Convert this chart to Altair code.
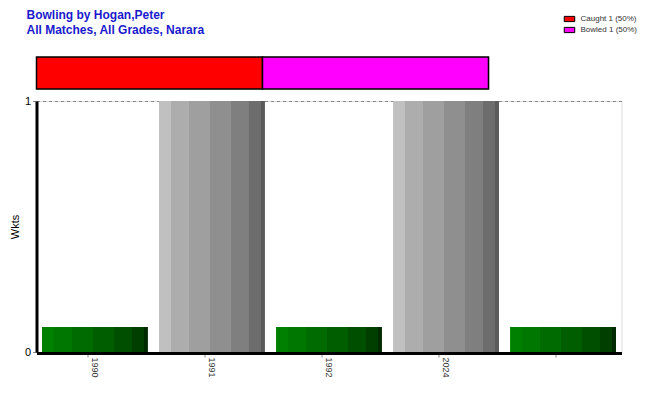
import altair as alt
import pandas as pd

# ---- data ----
years = ["1990", "1991", "1992", "2024", " "]
wkts = [0.1, 1, 0.1, 1, 0.1]
kinds = ["base", "wkt", "base", "wkt", "base"]

dismissals = ["Caught 1 (50%)", "Bowled 1 (50%)"]
dismissal_counts = [1, 1]
dismissal_colors = ["#ff0000", "#ff00ff"]

df = pd.DataFrame({"year": years, "wkts": wkts, "kind": kinds})
dd = pd.DataFrame({"how": dismissals, "n": dismissal_counts, "row": ["a", "a"],
                   "order": [0, 1]})

FONT = "Liberation Sans"

def stepped(colors, edges):
    stops = []
    for i, c in enumerate(colors):
        stops.append(alt.GradientStop(offset=edges[i], color=c))
        stops.append(alt.GradientStop(offset=edges[i + 1], color=c))
    return alt.Gradient(gradient="linear", stops=stops, x1=0, x2=1, y1=0, y2=0)

edges = [0, 0.113, 0.283, 0.481, 0.679, 0.849, 0.962, 1.0]
gray = stepped(["#c0c0c0", "#adadad", "#9f9f9f", "#8f8f8f", "#7f7f7f", "#6d6d6d", "#5a5a5a"], edges)
green = stepped(["#008000", "#007800", "#006b00", "#005e00", "#004f00", "#003f00", "#002a00"], edges)

xenc = alt.X("year:N", sort=years, title=None,
             scale=alt.Scale(paddingInner=0.095, paddingOuter=0.047),
             axis=alt.Axis(labelAngle=90, labelFontSize=9, labelColor="#333333",
                           labelFont=FONT, domainColor="black", domainWidth=3,
                           tickColor="#888888", tickSize=4, bandPosition=0.43,
                           labelPadding=0, offset=1))
yenc = alt.Y("wkts:Q", title="Wkts",
             scale=alt.Scale(domain=[0, 1], nice=False),
             axis=alt.Axis(values=[0, 1], format="d", labelFontSize=11, labelColor="#000000",
                           labelFont=FONT, titleFont=FONT, titleFontSize=11,
                           titleFontWeight="normal", titleColor="#000000",
                           domainColor="black", domainWidth=3, tickColor="#888888",
                           tickSize=4, grid=True, gridDash=[3, 3], gridColor="#888888",
                           gridWidth=1, titlePadding=4))

base = alt.Chart(df)
green_bars = base.transform_filter(alt.datum.kind == "base").mark_bar(color=green).encode(x=xenc, y=yenc)
gray_bars = base.transform_filter(alt.datum.kind == "wkt").mark_bar(color=gray).encode(x=xenc, y=yenc)
main = alt.layer(green_bars, gray_bars).properties(width=585, height=251)

top = alt.Chart(dd).mark_bar(stroke="black", strokeWidth=1.5).encode(
    x=alt.X("n:Q", stack="zero", axis=None, scale=alt.Scale(domain=[0, 2], nice=False)),
    y=alt.Y("row:N", axis=None, scale=alt.Scale(paddingInner=0, paddingOuter=0)),
    color=alt.Color("how:N", sort=dismissals,
                    scale=alt.Scale(domain=dismissals, range=dismissal_colors),
                    legend=alt.Legend(title=None, orient="none", legendX=527, legendY=-44,
                                      symbolType="M-1,-0.5H1V0.5H-1Z", symbolSize=110,
                                      symbolStrokeColor="black", symbolStrokeWidth=1,
                                      labelFontSize=8, labelFont=FONT, labelColor="#333333",
                                      rowPadding=0, symbolOffset=0, labelOffset=5)),
    order=alt.Order("order:Q"),
).properties(width=452, height=32)

chart = alt.vconcat(top, main, spacing=3).properties(
    title=alt.TitleParams(["Bowling by Hogan,Peter", "All Matches, All Grades, Narara"],
                          anchor="start", frame="group", font=FONT, fontSize=12,
                          fontWeight="bold", color="#1a1acc", dx=-10, lineHeight=15,
                          offset=-24),
    padding={"left": 28.5, "top": 49, "right": 605.5, "bottom": 335},
    autosize=alt.AutoSizeParams(type="none"),
).configure_view(stroke=None).configure(background="white")

chart.save("out.html", embed_options={"renderer": "svg", "actions": False})
